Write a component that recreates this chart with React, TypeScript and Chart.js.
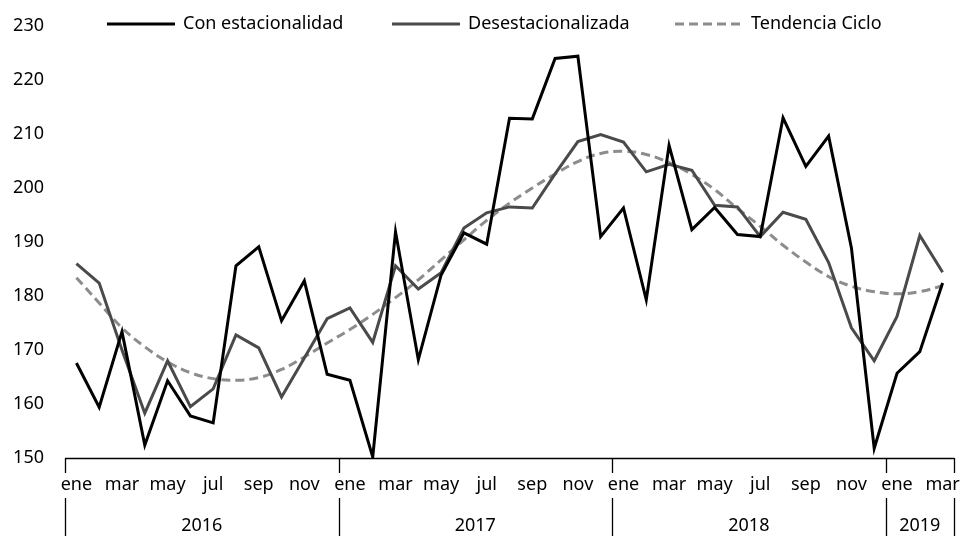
import React, { useEffect, useRef } from "react";
import { Chart, registerables } from "chart.js";

Chart.register(...registerables);

const monthNames = ["ene", "feb", "mar", "abr", "may", "jun", "jul", "ago", "sep", "oct", "nov", "dic"];
const years = ["2016", "2017", "2018", "2019"];
const yearCounts = [12, 12, 12, 3];

const conEstacionalidad = [
  167.6, 159.4, 173.4, 152.4, 164.3, 157.8, 156.5, 185.6, 189.1, 175.4, 182.8, 165.5,
  164.4, 150.2, 191.9, 168.2, 183.9, 191.7, 189.6, 212.9, 212.8, 224.0, 224.4, 191.0,
  196.3, 179.3, 207.9, 192.3, 196.4, 191.4, 191.0, 213.0, 204.0, 209.6, 188.9, 151.8,
  165.7, 169.7, 182.4,
];
const desestacionalizada = [
  186.0, 182.4, 170.0, 158.3, 168.0, 159.5, 162.8, 172.8, 170.4, 161.3, 168.5, 175.8,
  177.8, 171.4, 185.6, 181.3, 184.3, 192.6, 195.4, 196.5, 196.3, 202.6, 208.6, 209.9,
  208.5, 203.0, 204.4, 203.3, 196.8, 196.5, 191.0, 195.5, 194.2, 186.2, 174.1, 168.0,
  176.2, 191.2, 184.4,
];
const tendenciaCiclo = [
  183.4, 178.7, 174.1, 170.6, 167.8, 165.8, 164.7, 164.4, 164.9, 166.4, 168.7, 171.3,
  173.8, 176.6, 179.7, 183.0, 186.7, 190.4, 194.0, 197.2, 200.0, 202.6, 204.9, 206.4,
  206.8, 206.2, 204.7, 202.5, 199.7, 196.2, 192.9, 189.4, 186.3, 183.6, 181.8, 180.8,
  180.4, 180.8, 181.9,
];
const seriesNames = ["Con estacionalidad", "Desestacionalizada", "Tendencia Ciclo"];
const legendStarts = [107, 392, 675];

const categories: string[] = [];
years.forEach((y, yi) => {
  for (let m = 0; m < yearCounts[yi]; m++) categories.push(monthNames[m] + " " + y);
});

const FONT = '"Noto Sans", sans-serif';
const FONT_SIZE = 18;

const decorPlugin = {
  id: "decor",
  afterDraw(chart: any) {
    const ctx = chart.ctx;
    const ca = chart.chartArea;
    const xs = chart.scales.x;
    ctx.save();
    // axis line
    ctx.strokeStyle = "#000";
    ctx.lineWidth = 1.3;
    ctx.beginPath();
    ctx.moveTo(ca.left, ca.bottom + 0.5);
    ctx.lineTo(ca.right, ca.bottom + 0.5);
    ctx.stroke();
    // month labels
    ctx.fillStyle = "#000";
    ctx.font = FONT_SIZE + "px " + FONT;
    ctx.textAlign = "center";
    ctx.textBaseline = "middle";
    categories.forEach((c, i) => {
      if (i % 2 === 0) {
        ctx.fillText(c.split(" ")[0], xs.getPixelForValue(i), ca.bottom + 27);
      }
    });
    // year dividers and labels
    const boundary = (i: number) => {
      if (i <= 0) return ca.left;
      if (i >= categories.length) return ca.right;
      return (xs.getPixelForValue(i - 1) + xs.getPixelForValue(i)) / 2;
    };
    let start = 0;
    const bounds: number[] = [boundary(0)];
    yearCounts.forEach((cnt) => {
      start += cnt;
      bounds.push(boundary(start));
    });
    ctx.lineWidth = 1.3;
    bounds.forEach((bx) => {
      const px = Math.round(bx) + 0.5;
      ctx.beginPath();
      ctx.moveTo(px, ca.bottom);
      ctx.lineTo(px, ca.bottom + 15);
      ctx.moveTo(px, ca.bottom + 40);
      ctx.lineTo(px, chart.height);
      ctx.stroke();
    });
    years.forEach((y, yi) => {
      ctx.fillText(y, (bounds[yi] + bounds[yi + 1]) / 2, ca.bottom + 68);
    });
    // legend
    chart.data.datasets.forEach((ds: any, di: number) => {
      const x0 = legendStarts[di];
      const ly = 24;
      ctx.strokeStyle = ds.borderColor;
      ctx.lineWidth = ds.borderWidth;
      ctx.setLineDash(ds.borderDash || []);
      ctx.beginPath();
      ctx.moveTo(x0, ly);
      ctx.lineTo(x0 + 68, ly);
      ctx.stroke();
      ctx.setLineDash([]);
      ctx.textAlign = "left";
      ctx.fillStyle = "#000";
      ctx.fillText(ds.label, x0 + 76, ly);
    });
    ctx.restore();
  },
};

export default function App() {
  const ref = useRef<HTMLCanvasElement | null>(null);
  useEffect(() => {
    if (!ref.current) return;
    const chart = new Chart(ref.current, {
      type: "line",
      data: {
        labels: categories,
        datasets: [
          {
            label: seriesNames[0],
            data: conEstacionalidad,
            borderColor: "#000000",
            borderWidth: 3,
            pointRadius: 0,
            tension: 0,
          },
          {
            label: seriesNames[1],
            data: desestacionalizada,
            borderColor: "#4a4a4a",
            borderWidth: 3,
            pointRadius: 0,
            tension: 0,
          },
          {
            label: seriesNames[2],
            data: tendenciaCiclo,
            borderColor: "#8c8c8c",
            borderWidth: 3,
            borderDash: [9, 5],
            pointRadius: 0,
            tension: 0.4,
          },
        ],
      },
      options: {
        animation: false,
        responsive: false,
        maintainAspectRatio: false,
        layout: { padding: { top: 26, bottom: 78, right: 6, left: 0 } },
        plugins: { legend: { display: false }, tooltip: { enabled: false } },
        scales: {
          x: {
            type: "category",
            display: false,
            offset: true,
          },
          y: {
            min: 150,
            max: 230,
            grid: { display: false, drawTicks: false },
            border: { display: false },
            ticks: {
              stepSize: 10,
              padding: 21,
              color: "#000",
              font: { family: FONT, size: FONT_SIZE },
            },
            afterFit(scale: any) {
              scale.width = 65;
              scale.paddingTop = 0;
              scale.paddingBottom = 0;
            },
          },
        },
      },
      plugins: [decorPlugin],
    });
    return () => chart.destroy();
  }, []);
  return (
    <div style={{ position: "fixed", left: 0, top: 0, width: 960, height: 536, background: "#fff" }}>
      <canvas ref={ref} width={960} height={536} style={{ width: 960, height: 536 }} />
    </div>
  );
}
